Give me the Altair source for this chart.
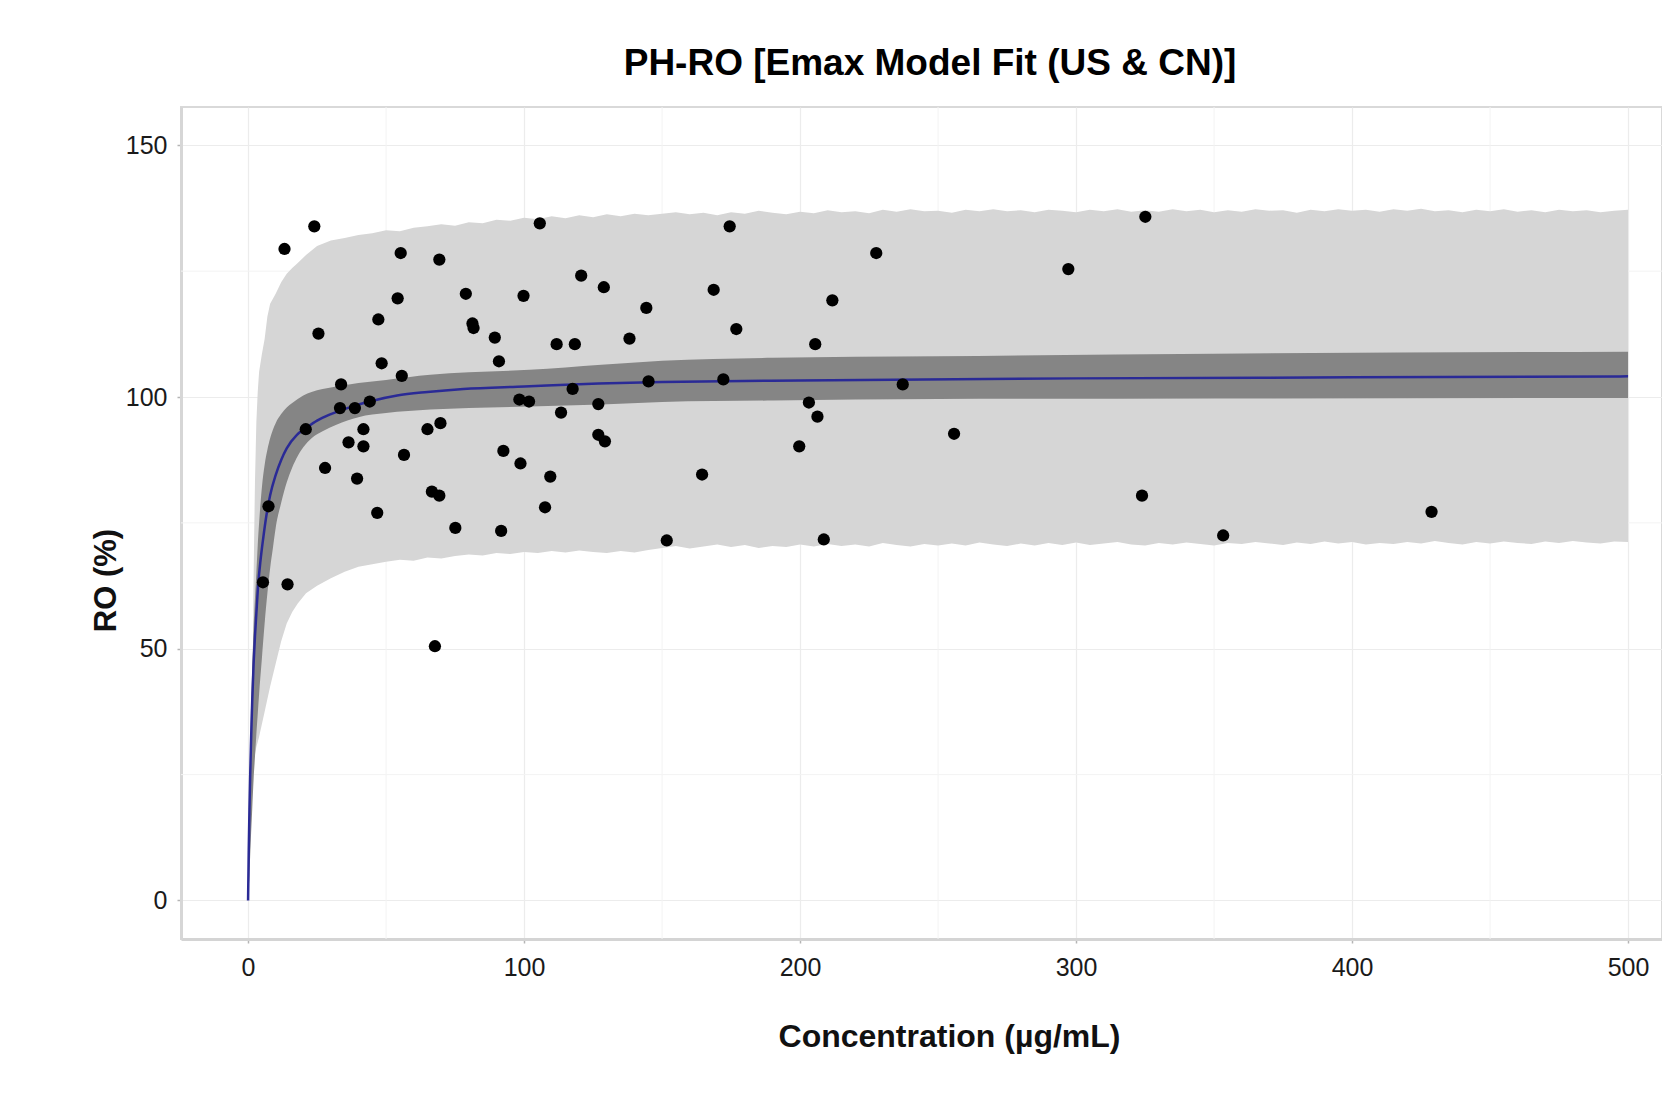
import altair as alt
import pandas as pd

FONT = "Liberation Sans, Arial, Helvetica, sans-serif"

# ---------------- observed data points ----------------
pt_conc = [13.2, 24.0, 25.5, 20.9, 7.4, 5.4, 14.3, 27.9, 33.7, 33.3, 38.7, 44.1, 36.4, 41.8,
           41.8, 39.5, 46.8, 47.2, 48.4, 54.2, 55.3, 55.7, 56.5, 65.0, 66.6, 69.3, 69.7, 69.3,
           67.7, 75.1, 78.9, 81.3, 81.7, 89.4, 90.9, 92.5, 91.7, 98.3, 101.8, 98.7, 99.8, 105.7,
           107.6, 109.5, 111.8, 113.4, 117.6, 118.4, 120.7, 126.9, 126.9, 129.3, 128.9, 138.2,
           144.3, 145.1, 151.7, 164.5, 168.7, 172.2, 174.5, 176.9, 199.7, 203.2, 205.5, 206.3,
           208.6, 211.7, 227.6, 237.2, 255.8, 297.2, 323.9, 325.1, 353.3, 428.8]
pt_ro = [129.4, 133.9, 112.6, 93.6, 78.3, 63.2, 62.8, 85.9, 102.5, 97.8, 97.8, 99.1, 91.0, 93.6,
         90.2, 83.8, 77.0, 115.4, 106.7, 119.6, 128.6, 104.2, 88.5, 93.6, 81.2, 80.4, 94.8, 127.3,
         50.5, 74.0, 120.5, 114.6, 113.7, 111.8, 107.1, 89.3, 73.4, 99.5, 99.1, 86.8, 120.1, 134.5,
         78.1, 84.2, 110.5, 96.9, 101.6, 110.5, 124.1, 98.6, 92.5, 91.2, 121.8, 111.6,
         117.7, 103.1, 71.5, 84.6, 121.3, 103.5, 133.9, 113.5, 90.2, 98.9, 110.5, 96.1,
         71.7, 119.2, 128.6, 102.5, 92.7, 125.4, 80.4, 135.8, 72.5, 77.2]

# ---------------- Emax model fit (blue line) ----------------
fit_conc = [0, 0.25, 0.5, 0.75, 1, 1.25, 1.5, 2, 2.5, 3, 3.7, 4.5, 5.5, 6.8, 8, 10, 12, 14,
            17.7, 20.7, 25, 30, 37, 44, 54, 65, 78, 100, 127, 150, 200, 300, 400, 500]
fit_ro = [0, 10, 18, 24.5, 30, 35, 39.5, 47, 52.5, 57, 63, 67.5, 72, 77, 80.5, 84.5, 87.5,
          89.8, 92.5, 93.7, 95.3, 96.6, 98.0, 99.1, 100.3, 101.0, 101.6, 102.1, 102.7, 103.0,
          103.3, 103.7, 103.9, 104.1]

# ---------------- confidence band (dark grey) ----------------
ci_conc = [0, 0.5, 1, 1.5, 2, 2.5, 3, 3.5, 4, 5, 6, 7, 8, 9, 10, 12, 14, 16, 18, 20, 23, 27,
           32, 40, 50, 66, 80, 102, 128, 150, 190, 250, 350, 500]
ci_hi = [0, 20, 36, 46, 54, 60, 65, 70.5, 75, 82, 86.5, 89.5, 91.8, 93.5, 94.8, 96.6, 97.9,
         98.8, 99.6, 100.3, 101.0, 101.6, 102.1, 102.8, 103.4, 104.4, 104.9, 105.4, 106.4,
         107.2, 107.8, 108.1, 108.6, 109.0]
ci_lo = [0, 5, 12, 18, 24, 28.5, 33, 37, 41, 48, 55, 61, 66, 70, 74, 79, 83, 86, 88.3, 90,
         91.8, 93.2, 94.5, 96, 96.8, 97.5, 97.8, 98.1, 98.5, 99.0, 99.3, 99.6, 99.7, 99.8]

# ---------------- prediction band (light grey) ----------------
pi_conc = [1.6, 1.7, 1.9, 2.2, 2.5, 3, 3.5, 4, 5, 6, 7, 8, 10, 12, 14, 16, 18, 21, 25, 30,
           35, 40, 45, 50, 55, 60, 65, 70, 75, 80, 85, 90, 95, 100, 105, 110, 115, 120, 125,
           130, 135, 140, 145,
           150, 155, 160, 165, 170, 175, 180, 185, 190, 195, 200, 205, 210, 215, 220, 225,
           230, 235, 240, 245, 250, 255, 260, 265, 270, 275, 280, 285, 290, 295, 300, 305,
           310, 315, 320, 325, 330, 335, 340, 345, 350, 355, 360, 365, 370, 375, 380, 385,
           390, 395, 400, 405, 410, 415, 420, 425, 430, 435, 440, 445, 450, 455, 460, 465,
           470, 475, 480, 485, 490, 495, 500]
pi_hi = [30, 44, 60, 72, 83, 95, 101, 105, 108.5, 111.5, 116, 118.5, 120.5, 122.8, 124.5,
         125.6, 126.6, 128.2, 130, 131.1, 131.6, 132.2, 132.5, 133.1, 132.9, 133.6, 133.9,
         134.3, 134.0, 134.7, 134.5, 135.2, 135.0, 135.6, 135.3, 135.9, 135.5, 136.1, 135.7,
         136.3, 135.9, 136.4, 136.1,
         136.4, 136.7, 136.3, 136.6, 136.1, 136.7, 136.4, 137.0, 136.6, 136.3, 136.8, 136.5,
         137.1, 136.7, 136.9, 136.5, 137.2, 136.8, 137.3, 136.9, 137.0, 136.6, 137.2, 136.9,
         137.3, 136.9, 137.1, 136.7, 137.2, 137.0, 136.7, 137.2, 136.9, 137.3, 136.8, 137.1,
         136.8, 137.3, 136.9, 137.2, 136.7, 137.1, 136.8, 137.3, 137.0, 137.1, 136.6, 137.2,
         136.9, 137.3, 137.0, 137.2, 136.8, 137.3, 137.0, 137.4, 136.9, 137.1, 136.7, 137.2,
         136.9, 137.3, 136.8, 137.1, 136.7, 137.2, 136.9, 137.1, 136.7, 137.0, 137.2]
pi_lo = [28, 28, 28.2, 28.5, 29, 30.5, 31.5, 32.5, 35, 37.5, 40, 42.5, 47, 51.5, 55, 57.3,
         59, 61, 62.5, 64, 65.3, 66.3, 66.8, 67.3, 67.7, 67.5, 68.1, 67.9, 68.4, 68.7, 68.5,
         69.0, 68.8, 69.2, 69.0, 69.4, 69.1, 69.5, 69.2, 69.0, 69.4, 69.1, 69.6,
         70.0, 70.4, 69.9, 70.3, 70.7, 70.2, 70.6, 70.0, 70.4, 70.2, 70.7, 70.3, 70.8, 70.4,
         70.7, 70.3, 71.0, 70.6, 70.3, 70.8, 70.5, 70.9, 70.5, 71.1, 70.7, 70.4, 70.9, 70.5,
         71.0, 70.6, 71.1, 70.6, 70.9, 71.2, 70.7, 70.5, 71.0, 70.7, 71.1, 70.8, 70.5, 71.0,
         70.8, 71.2, 70.9, 70.6, 71.1, 70.8, 71.3, 70.9, 71.2, 70.7, 71.0, 70.8, 71.2, 70.9,
         71.4, 71.0, 70.7, 71.2, 70.9, 71.3, 71.0, 70.8, 71.3, 71.0, 71.4, 71.1, 70.9, 71.3,
         71.2]

# ---------------- axes ----------------
x_ticks = [0, 100, 200, 300, 400, 500]
y_ticks = [0, 50, 100, 150]
x_minor = [50, 150, 250, 350, 450]
y_minor = [25, 75, 125]

x_scale = alt.Scale(domain=[-24.3, 512.3], nice=False, zero=False)
y_scale = alt.Scale(domain=[-7.65, 157.6], nice=False, zero=False)

x_axis = alt.Axis(
    values=x_ticks, format="d", title="Concentration (µg/mL)",
    grid=True, gridColor="#ececec", gridWidth=1.2,
    domainColor="#d4d4d4", domainWidth=3,
    tickColor="#b5b5b5", tickSize=4, tickWidth=1.5,
    labelFont=FONT, labelFontSize=25, labelColor="#1a1a1a", labelPadding=12,
    labelFlush=False, labelOverlap=False,
    titleFont=FONT, titleFontSize=32, titleFontWeight="bold", titleColor="#111111",
    titleX=768, titleY=107, titleBaseline="alphabetic", titleAlign="center",
)
y_axis = alt.Axis(
    values=y_ticks, format="d", title="RO (%)",
    grid=True, gridColor="#ececec", gridWidth=1.2,
    domainColor="#d6d6d6", domainWidth=3,
    tickColor="#b5b5b5", tickSize=4, tickWidth=1.5,
    labelFont=FONT, labelFontSize=25, labelColor="#1a1a1a", labelPadding=10,
    labelFlush=False, labelOverlap=False,
    titleFont=FONT, titleFontSize=31, titleFontWeight="bold", titleColor="#111111",
    titleAngle=270, titleX=-66, titleY=473, titleBaseline="alphabetic",
    titleAlign="center",
)


def X(field):
    return alt.X(field, type="quantitative", scale=x_scale, axis=x_axis)


def Y(field):
    return alt.Y(field, type="quantitative", scale=y_scale, axis=y_axis)


pts = pd.DataFrame({"conc": pt_conc, "ro": pt_ro})
fit = pd.DataFrame({"conc": fit_conc, "ro": fit_ro})
ci = pd.DataFrame({"conc": ci_conc, "lo": ci_lo, "hi": ci_hi})
pi = pd.DataFrame({"conc": pi_conc, "lo": pi_lo, "hi": pi_hi})
gx = pd.DataFrame({"conc": x_minor})
gy = pd.DataFrame({"ro": y_minor})

minor_x = alt.Chart(gx).mark_rule(color="#f3f3f3", strokeWidth=1).encode(x=X("conc"))
minor_y = alt.Chart(gy).mark_rule(color="#f3f3f3", strokeWidth=1).encode(y=Y("ro"))

pi_band = alt.Chart(pi).mark_area(color="#d6d6d6", opacity=1).encode(
    x=X("conc"), y=Y("lo"), y2="hi"
)
ci_band = alt.Chart(ci).mark_area(color="#858585", opacity=1, interpolate="monotone").encode(
    x=X("conc"), y=Y("lo"), y2="hi"
)
fit_line = alt.Chart(fit).mark_line(color="#2a2a96", strokeWidth=2.5, interpolate="monotone").encode(
    x=X("conc"), y=Y("ro")
)
points = alt.Chart(pts).mark_circle(color="black", size=150, opacity=1).encode(
    x=X("conc"), y=Y("ro")
)

chart = (
    alt.layer(minor_x, minor_y, pi_band, ci_band, fit_line, points)
    .properties(
        width=1481,
        height=832,
        padding={"left": 173, "top": 99, "right": 0, "bottom": 130},
        autosize=alt.AutoSizeParams(type="none"),
        background="white",
        title=alt.Title(
            text="PH-RO [Emax Model Fit (US & CN)]",
            font=FONT, fontSize=37, fontWeight="bold", color="#000000",
            anchor="middle", dx=8.5, dy=25, offset=20, baseline="alphabetic",
        ),
    )
    .configure_view(stroke="#d9d9d9", strokeWidth=2)
)

chart.save("out.html", embed_options={"renderer": "svg", "actions": False})
